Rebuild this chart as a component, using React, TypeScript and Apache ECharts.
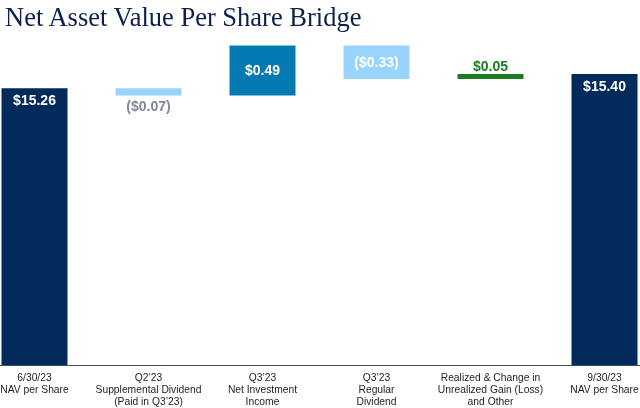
import React, { useEffect, useRef } from "react";
import * as echarts from "echarts";

const titleText = "Net Asset Value Per Share Bridge";
const categories = [
  "6/30/23\nNAV per Share",
  "Q2’23\nSupplemental Dividend\n(Paid in Q3’23)",
  "Q3’23\nNet Investment\nIncome",
  "Q3’23\nRegular\nDividend",
  "Realized & Change in\nUnrealized Gain (Loss)\nand Other",
  "9/30/23\nNAV per Share",
];
const startNav = 15.26;
const changes = [-0.07, 0.49, -0.33, 0.05];
const endNav = 15.4;

const NAVY = "#022a5a";
const LIGHT = "#99d3ff";
const MID = "#0579b2";
const GREEN = "#1b7d20";
const changeColors = [LIGHT, MID, LIGHT, GREEN];

const r2 = (v: number) => Math.round(v * 100) / 100;
const fmt = (v: number) =>
  v < 0 ? `($${Math.abs(v).toFixed(2)})` : `$${v.toFixed(2)}`;

export default function App() {
  const ref = useRef<HTMLDivElement>(null);
  useEffect(() => {
    if (!ref.current) return;
    const chart = echarts.init(ref.current, undefined, { renderer: "svg" });

    const base: number[] = [0];
    const vis: any[] = [];
    vis.push({
      value: startNav,
      itemStyle: { color: NAVY },
      label: {
        show: true,
        position: "insideTop",
        distance: 5,
        color: "#ffffff",
        formatter: () => fmt(startNav),
      },
    });
    let run = startNav;
    changes.forEach((c, i) => {
      const next = r2(run + c);
      base.push(r2(Math.min(run, next)));
      const lbl: any = {
        show: true,
        formatter: () => fmt(c),
      };
      if (i === 0) {
        lbl.position = "bottom";
        lbl.distance = 4;
        lbl.color = "#80869a";
      } else if (i === 3) {
        lbl.position = "top";
        lbl.distance = 1;
        lbl.color = GREEN;
      } else {
        lbl.position = "inside";
        lbl.color = "#ffffff";
      }
      vis.push({
        value: r2(Math.abs(c)),
        itemStyle: { color: changeColors[i] },
        label: lbl,
      });
      run = next;
    });
    base.push(0);
    vis.push({
      value: endNav,
      itemStyle: { color: NAVY },
      label: {
        show: true,
        position: "insideTop",
        distance: 5,
        color: "#ffffff",
        formatter: () => fmt(endNav),
      },
    });

    chart.setOption({
      animation: false,
      graphic: [
        {
          type: "text",
          left: 5,
          top: 3,
          style: {
            text: titleText,
            fill: "#0d1f4c",
            font: '26.5px "Liberation Serif", serif',
          },
        },
      ],
      grid: {
        left: -22.5,
        right: -21.5,
        top: 12.7,
        bottom: 43,
        containLabel: false,
        outerBoundsMode: "none",
      },
      xAxis: {
        type: "category",
        data: categories,
        axisLine: { lineStyle: { color: "#3c4d6b", width: 1 } },
        axisTick: { show: false },
        axisLabel: {
          interval: 0,
          margin: 6,
          color: "#1e1e1e",
          fontFamily: '"Liberation Sans", Arial, sans-serif',
          fontSize: 10.3,
          lineHeight: 12,
        },
      },
      yAxis: {
        type: "value",
        min: 12.55,
        max: 16.0,
        show: false,
        splitLine: { show: false },
      },
      series: [
        {
          type: "bar",
          stack: "wf",
          data: base,
          barWidth: 66,
          itemStyle: { color: "transparent" },
          emphasis: { disabled: true },
          silent: true,
        },
        {
          type: "bar",
          stack: "wf",
          data: vis,
          barWidth: 66,
          label: {
            fontFamily: '"Liberation Sans", Arial, sans-serif',
            fontSize: 14,
            fontWeight: "bold",
          },
        },
      ],
    });
    return () => chart.dispose();
  }, []);
  return <div ref={ref} style={{ width: 640, height: 408, position: "fixed", left: 0, top: 0 }} />;
}
